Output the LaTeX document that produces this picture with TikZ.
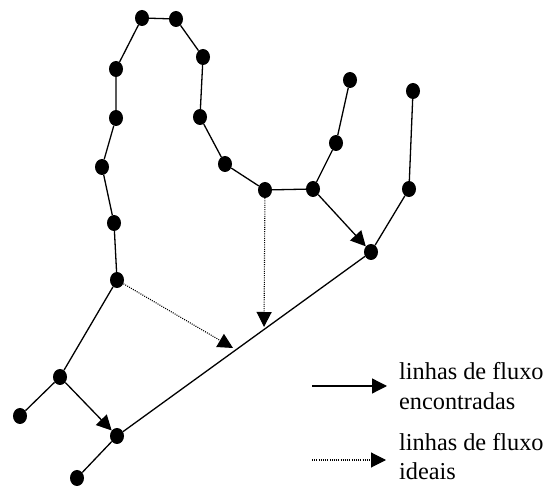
\documentclass[tikz,border=0pt]{standalone}
\usepackage{fontspec}
\setmainfont{Liberation Serif}
\usetikzlibrary{shapes.geometric,arrows.meta}
\begin{document}
\begin{tikzpicture}[x=1pt,y=-1pt,
  dot/.style={ellipse,fill=black,draw=none,inner sep=0pt,minimum width=14pt,minimum height=16pt},
  edge/.style={line width=1.3pt},
  flow/.style={line width=1.3pt,-{Triangle[length=15pt,width=15pt]}},
  ideal/.style={line width=1.1pt,dash pattern=on 1pt off 1.2pt,-{Triangle[length=15pt,width=15pt]}},
  legend/.style={anchor=base west,inner sep=0pt,font=\fontsize{24.3}{30}\selectfont}]
\useasboundingbox (0,0) rectangle (547,486);

% network nodes
\node[dot] (n1)  at (142,18) {};
\node[dot] (n2)  at (176,19) {};
\node[dot] (n3)  at (203,57) {};
\node[dot] (n4)  at (200,117) {};
\node[dot] (n5)  at (225,164) {};
\node[dot] (n6)  at (265,190) {};
\node[dot] (n7)  at (116,69) {};
\node[dot] (n8)  at (116,118) {};
\node[dot] (n9)  at (102,167) {};
\node[dot] (n10) at (114,223) {};
\node[dot] (n11) at (313,189) {};
\node[dot] (n12) at (336,143) {};
\node[dot] (n13) at (350,80) {};
\node[dot] (n14) at (413,91) {};
\node[dot] (n15) at (409,189) {};
\node[dot] (n16) at (371,252) {};
\node[dot] (n17) at (117,280) {};
\node[dot] (n18) at (60,377) {};
\node[dot] (n19) at (20,416) {};
\node[dot] (n20) at (117,436) {};
\node[dot] (n21) at (77,478) {};

% points where the ideal lines meet the main line
\coordinate (p1) at (264,327);
\coordinate (p2) at (233,348);

% plain links
\draw[edge] (n1) -- (n2) -- (n3) -- (n4) -- (n5) -- (n6) -- (n11) -- (n12) -- (n13);
\draw[edge] (n1) -- (n7) -- (n8) -- (n9) -- (n10) -- (n17) -- (n18) -- (n19);
\draw[edge] (n16) -- (n15) -- (n14);
\draw[edge] (n20) -- (n21);
\draw[edge] (n20) -- (n16);

% observed flow lines
\draw[flow] (n11) -- (n16);
\draw[flow] (n18) -- (n20);

% ideal flow lines
\draw[ideal] (n6) -- (p1);
\draw[ideal] (n17) -- (p2);

% legend
\coordinate (la1) at (312,386);
\coordinate (la2) at (387,386);
\coordinate (lb1) at (312,460);
\coordinate (lb2) at (386,460);
\draw[flow] (la1) -- (la2);
\draw[ideal] (lb1) -- (lb2);
\node[legend] (t1) at (399,380) {linhas de fluxo};
\node[legend] (t2) at (399,410) {encontradas};
\node[legend] (t3) at (399,451) {linhas de fluxo};
\node[legend] (t4) at (399,480) {ideais};
\end{tikzpicture}
\end{document}
